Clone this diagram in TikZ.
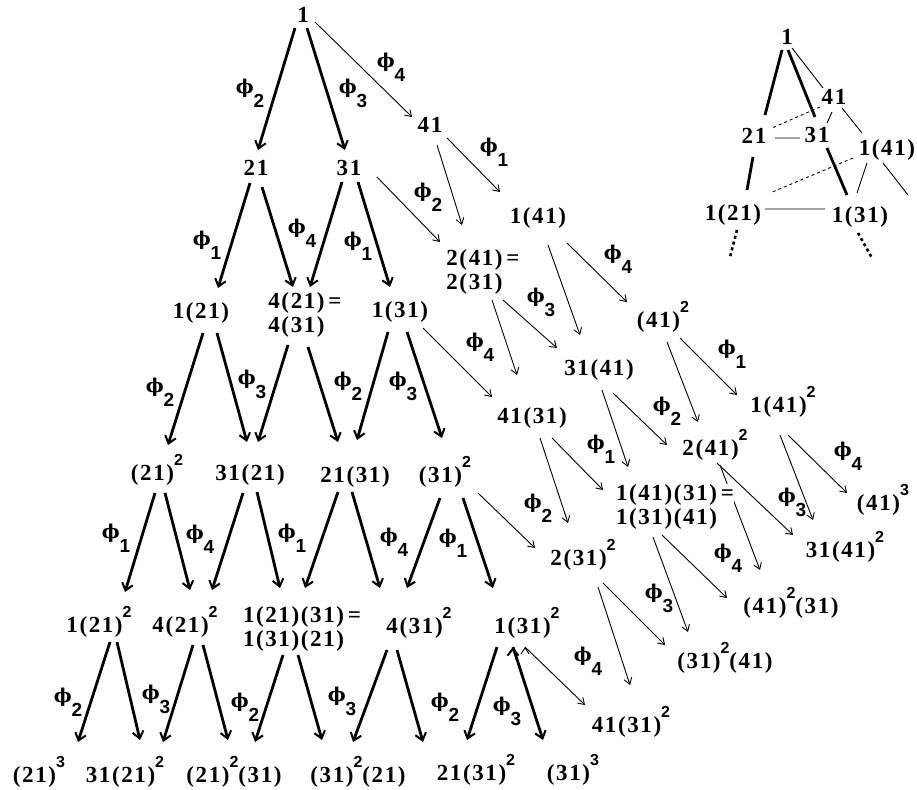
\documentclass[tikz,border=0pt]{standalone}
\usepackage{fontspec}
\setmainfont{Liberation Serif}[LetterSpace=7]
\newfontfamily\idxfont{Liberation Sans}
\newfontfamily\phfont{DejaVu Serif}
\usetikzlibrary{arrows.meta}
\pgfdeclarelayer{bg}
\pgfsetlayers{bg,main}

% exponent and phi with index
\newcommand\pw[1]{\raisebox{15pt}{\idxfont\fontsize{16}{16}\selectfont #1}}
\newcommand\ph[1]{{\phfont\bfseries\fontsize{19}{19}\selectfont\char"03D5}\raisebox{-14pt}{\idxfont\fontsize{19}{19}\selectfont #1}}

\begin{document}
\begin{tikzpicture}[x=1pt,y=-1pt,
    every node/.style={inner sep=0pt},
    term/.style={anchor=base,font=\fontsize{23}{24}\selectfont\bfseries},
    lbl/.style={font=\bfseries},
    thk/.style={line width=2.8pt,-{Straight Barb[length=7pt,width=11pt,line width=2pt]}},
    thn/.style={line width=0.9pt,-{Straight Barb[length=6pt,width=8pt]}},
    lnk/.style={line width=0.9pt},
    lnkb/.style={line width=2.8pt},
    lnkd/.style={line width=0.9pt,dash pattern=on 3pt off 3pt},
    lnkdd/.style={line width=2.6pt,dash pattern=on 3pt off 3pt}]
    \useasboundingbox (0,0) rectangle (917,789);

    % lattice
    \node[term] (n1) at (303,23) {1};
    \node[term] (n21) at (256,175) {21};
    \node[term] (n31) at (349,175) {31};
    \node[term] (n41) at (430,132) {41};
    \node[term] (n121) at (201,318) {1(21)};
    \node[term,align=left] (n4eq) at (305,332) {4(21)\,=\\4(31)};
    \node[term] (n131) at (400,317) {1(31)};
    \node[term,align=left] (n2eq) at (483,289) {2(41)\,=\\2(31)};
    \node[term] (n141) at (538,223) {1(41)};
    \node[term] (n412) at (663,327) {(41)\pw{2}};
    \node[term] (n212) at (157,480) {(21)\pw{2}};
    \node[term] (n3121) at (250,480) {31(21)};
    \node[term] (n2131) at (355,482) {21(31)};
    \node[term] (n312) at (445,482) {(31)\pw{2}};
    \node[term] (n4131) at (532,423) {41(31)};
    \node[term] (n3141) at (599,375) {31(41)};
    \node[term] (n2412) at (715,455) {2(41)\pw{2}};
    \node[term] (n1412) at (783,412) {1(41)\pw{2}};
    \node[term] (n1212) at (99,632) {1(21)\pw{2}};
    \node[term] (n4212) at (185,632) {4(21)\pw{2}};
    \node[term,align=left] (n1eq) at (302,646) {1(21)(31)\,=\\1(31)(21)};
    \node[term] (n4312) at (419,633) {4(31)\pw{2}};
    \node[term] (n1312) at (527,633) {1(31)\pw{2}};
    \node[term] (n2312) at (583,565) {2(31)\pw{2}};
    \node[term,align=left,fill=white] (n14eq) at (675,524) {1(41)(31)\,=\\1(31)(41)};
    \node[term] (n31412) at (845,557) {31(41)\pw{2}};
    \node[term] (n413) at (883,510) {(41)\pw{3}};
    \node[term] (n41231) at (791,613) {(41)\pw{2}(31)};
    \node[term] (n31241) at (725,668) {(31)\pw{2}(41)};
    \node[term] (n41312) at (631,732) {41(31)\pw{2}};
    \node[term] (n213) at (39,782) {(21)\pw{3}};
    \node[term] (n31212) at (125,782) {31(21)\pw{2}};
    \node[term] (n21231) at (234,782) {(21)\pw{2}(31)};
    \node[term] (n31221) at (358,782) {(31)\pw{2}(21)};
    \node[term] (n21312) at (476,780) {21(31)\pw{2}};
    \node[term] (n313) at (573,780) {(31)\pw{3}};

    % maps
    \node[lbl] (p1) at (250,93) {\ph{2}};
    \node[lbl] (p2) at (353,93) {\ph{3}};
    \node[lbl] (p3) at (391,67) {\ph{4}};
    \node[lbl] (p4) at (207,245) {\ph{1}};
    \node[lbl] (p5) at (302,233) {\ph{4}};
    \node[lbl] (p6) at (358,246) {\ph{1}};
    \node[lbl] (p7) at (428,197) {\ph{2}};
    \node[lbl] (p8) at (494,152) {\ph{1}};
    \node[lbl] (p9) at (541,302) {\ph{3}};
    \node[lbl] (p10) at (618,259) {\ph{4}};
    \node[lbl] (p11) at (160,392) {\ph{2}};
    \node[lbl] (p12) at (252,384) {\ph{3}};
    \node[lbl] (p13) at (348,386) {\ph{2}};
    \node[lbl] (p14) at (403,386) {\ph{3}};
    \node[lbl] (p15) at (480,347) {\ph{4}};
    \node[lbl] (p16) at (732,354) {\ph{1}};
    \node[lbl] (p17) at (667,411) {\ph{2}};
    \node[lbl] (p18) at (601,449) {\ph{1}};
    \node[lbl] (p19) at (538,508) {\ph{2}};
    \node[lbl] (p20) at (116,538) {\ph{1}};
    \node[lbl] (p21) at (200,539) {\ph{4}};
    \node[lbl] (p22) at (292,538) {\ph{1}};
    \node[lbl] (p23) at (394,542) {\ph{4}};
    \node[lbl] (p24) at (453,543) {\ph{1}};
    \node[lbl] (p25) at (848,456) {\ph{4}};
    \node[lbl] (p26) at (792,502) {\ph{3}};
    \node[lbl] (p27) at (728,558) {\ph{4}};
    \node[lbl] (p28) at (659,598) {\ph{3}};
    \node[lbl] (p29) at (588,661) {\ph{4}};
    \node[lbl] (p30) at (68,702) {\ph{2}};
    \node[lbl] (p31) at (156,699) {\ph{3}};
    \node[lbl] (p32) at (245,707) {\ph{2}};
    \node[lbl] (p33) at (342,701) {\ph{3}};
    \node[lbl] (p34) at (445,707) {\ph{2}};
    \node[lbl] (p35) at (507,711) {\ph{3}};

    % small copy, top right
    \node[term] (m1) at (787,45) {1};
    \node[term] (m41) at (834,105) {41};
    \node[term] (m21) at (754,143) {21};
    \node[term] (m31) at (817,142) {31};
    \node[term] (m141) at (887,155) {1(41)};
    \node[term] (m121) at (733,220) {1(21)};
    \node[term] (m131) at (860,222) {1(31)};
    \coordinate (m141e) at (908,195);
    \coordinate (m121e) at (730,257);
    \coordinate (m131e) at (872,258);

    \begin{pgfonlayer}{bg}
    \draw[thk]
        ([shift={(-8,5)}]n1.base) edge ([shift={(2,-25)}]n21.base)
        ([shift={(4,5)}]n1.base) edge ([shift={(-4,-25)}]n31.base)
        ([shift={(-6,8)}]n21.base) edge ([shift={(17,-30)}]n121.base)
        ([shift={(6,12)}]n21.base) edge ([shift={(-12,-45)}]n4eq.base)
        ([shift={(-7,7)}]n31.base) edge ([shift={(5,-45)}]n4eq.base)
        ([shift={(9,7)}]n31.base) edge ([shift={(-10,-30)}]n131.base)
        ([shift={(2,15)}]n121.base) edge ([shift={(11,-35)}]n212.base)
        ([shift={(16,15)}]n121.base) edge ([shift={(-3,-38)}]n3121.base)
        ([shift={(-17,13)}]n4eq.base) edge ([shift={(8,-38)}]n3121.base)
        ([shift={(3,15)}]n4eq.base) edge ([shift={(-17,-40)}]n2131.base)
        ([shift={(-12,15)}]n131.base) edge ([shift={(2,-42)}]n2131.base)
        ([shift={(7,15)}]n131.base) edge ([shift={(-3,-44)}]n312.base)
        ([shift={(-2,13)}]n212.base) edge ([shift={(26,-40)}]n1212.base)
        ([shift={(8,13)}]n212.base) edge ([shift={(5,-42)}]n4212.base)
        ([shift={(-7,13)}]n3121.base) edge ([shift={(27,-42)}]n4212.base)
        ([shift={(7,12)}]n3121.base) edge ([shift={(-22,-58)}]n1eq.base)
        ([shift={(-17,10)}]n2131.base) edge ([shift={(3,-58)}]n1eq.base)
        ([shift={(-3,10)}]n2131.base) edge ([shift={(-39,-45)}]n4312.base)
        ([shift={(-5,16)}]n312.base) edge ([shift={(-12,-45)}]n4312.base)
        ([shift={(18,16)}]n312.base) edge ([shift={(-34,-45)}]n1312.base)
        ([shift={(11,10)}]n1212.base) edge ([shift={(39,-40)}]n213.base)
        ([shift={(18,10)}]n1212.base) edge ([shift={(15,-42)}]n31212.base)
        ([shift={(8,13)}]n4212.base) edge ([shift={(38,-40)}]n31212.base)
        ([shift={(18,13)}]n4212.base) edge ([shift={(-6,-42)}]n21231.base)
        ([shift={(-19,9)}]n1eq.base) edge ([shift={(21,-40)}]n21231.base)
        ([shift={(-4,9)}]n1eq.base) edge ([shift={(-36,-42)}]n31221.base)
        ([shift={(-32,17)}]n4312.base) edge ([shift={(-5,-40)}]n31221.base)
        ([shift={(-22,17)}]n4312.base) edge ([shift={(-53,-38)}]n21312.base)
        ([shift={(-30,14)}]n1312.base) edge ([shift={(-9,-40)}]n21312.base)
        ([shift={(-14,14)}]n1312.base) edge ([shift={(-30,-40)}]n313.base);
    \draw[thn]
        ([shift={(12,-1)}]n1.base) edge ([shift={(-18,-15)}]n41.base)
        ([shift={(28,2)}]n31.base) edge ([shift={(-43,-47)}]n2eq.base)
        ([shift={(7,13)}]n41.base) edge ([shift={(-21,-64)}]n2eq.base)
        ([shift={(17,6)}]n41.base) edge ([shift={(-38,-31)}]n141.base)
        ([shift={(23,11)}]n131.base) edge ([shift={(-40,-26)}]n4131.base)
        ([shift={(9,11)}]n2eq.base) edge ([shift={(-15,-48)}]n4131.base)
        ([shift={(20,11)}]n2eq.base) edge ([shift={(-42,-27)}]n3141.base)
        ([shift={(10,22)}]n141.base) edge ([shift={(-19,-40)}]n3141.base)
        ([shift={(29,20)}]n141.base) edge ([shift={(-36,-25)}]n412.base)
        ([shift={(4,15)}]n412.base) edge ([shift={(-17,-33)}]n2412.base)
        ([shift={(14,18)}]n3141.base) edge ([shift={(-48,-10)}]n2412.base)
        ([shift={(17,11)}]n412.base) edge ([shift={(-46,-17)}]n1412.base)
        ([shift={(8,15)}]n4131.base) edge ([shift={(-15,-42)}]n2312.base)
        ([shift={(20,15)}]n4131.base) edge ([shift={(-72,-34)}]n14eq.base)
        ([shift={(3,15)}]n3141.base) edge ([shift={(-47,-57)}]n14eq.base)
        ([shift={(33,11)}]n312.base) edge ([shift={(-48,-17)}]n2312.base)
        ([shift={(2,8)}]n2412.base) edge ([shift={(-52,-22)}]n31412.base)
        ([shift={(-3,23)}]n1412.base) edge ([shift={(-32,-37)}]n31412.base)
        ([shift={(5,23)}]n1412.base) edge ([shift={(-36,-17)}]n413.base)
        ([shift={(5,10)}]n2412.base) edge ([shift={(-31,-43)}]n41231.base)
        ([shift={(-13,11)}]n14eq.base) edge ([shift={(-64,-15)}]n41231.base)
        ([shift={(-22,13)}]n14eq.base) edge ([shift={(-37,-36)}]n31241.base)
        ([shift={(20,18)}]n2312.base) edge ([shift={(-60,-23)}]n31241.base)
        ([shift={(15,22)}]n2312.base) edge ([shift={(-1,-47)}]n41312.base)
        ([shift={(-2,14)}]n1312.base) edge ([shift={(-46,-27)}]n41312.base);
    \end{pgfonlayer}

    \draw[lnkb]
        ([shift={(-5,5)}]m1.base) -- ([shift={(11,-28)}]m21.base)
        ([shift={(1,5)}]m1.base) -- ([shift={(-2,-25)}]m31.base)
        ([shift={(-1,14)}]m21.base) -- ([shift={(14,-30)}]m121.base)
        ([shift={(10,6)}]m31.base) -- ([shift={(-13,-27)}]m131.base);
    \draw[lnk]
        ([shift={(5,3)}]m1.base) -- ([shift={(-11,-17)}]m41.base)
        ([shift={(-2,7)}]m41.base) -- ([shift={(10,-19)}]m31.base)
        ([shift={(8,3)}]m41.base) -- ([shift={(-25,-22)}]m141.base)
        ([shift={(21,-5)}]m21.base) -- ([shift={(-17,-4)}]m31.base)
        ([shift={(-20,8)}]m141.base) -- ([shift={(-3,-29)}]m131.base)
        ([shift={(-4,8)}]m141.base) -- (m141e)
        ([shift={(32,-11)}]m121.base) -- ([shift={(-35,-13)}]m131.base);
    \draw[lnkd]
        ([shift={(-14,2)}]m41.base) -- ([shift={(18,-15)}]m21.base)
        ([shift={(-34,3)}]m141.base) -- ([shift={(37,-27)}]m121.base);
    \draw[lnkdd]
        ([shift={(4,10)}]m121.base) -- (m121e)
        ([shift={(-2,11)}]m131.base) -- (m131e);
\end{tikzpicture}
\end{document}
